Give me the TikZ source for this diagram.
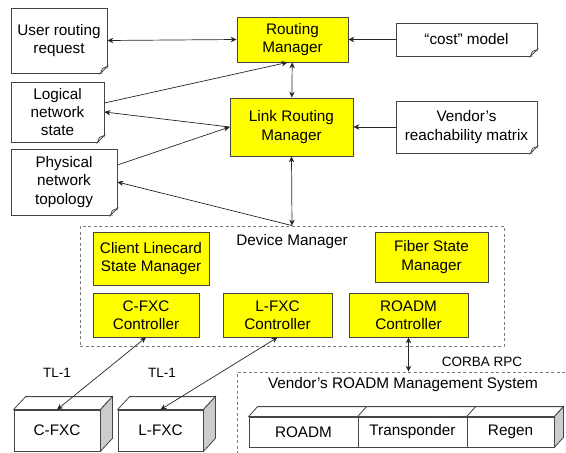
\documentclass[tikz,border=0pt]{standalone}
\usepackage{fontspec}
\setmainfont{Liberation Sans}
\usetikzlibrary{arrows.meta}
\definecolor{edge}{HTML}{454545}
\definecolor{mgr}{HTML}{FFFF00}
\definecolor{dashc}{HTML}{7A7A7A}
\definecolor{side}{HTML}{CCCCCC}
\tikzset{
  txt/.style={font=\fontsize{15.3}{18.3}\selectfont, align=center, inner sep=0pt},
  small/.style={font=\fontsize{13.5}{16}\selectfont, inner sep=0pt},
  mgrbox/.style={txt, draw=edge, fill=mgr, line width=0.8pt},
  docbox/.style={txt, draw=edge, fill=white, line width=0.8pt},
  devbox/.style={txt, draw=edge, fill=white, line width=0.8pt},
  group/.style={draw=dashc, dash pattern=on 3pt off 2.5pt, line width=0.8pt, inner sep=0pt},
  link/.style={line width=0.7pt, draw=black!85},
  >={Stealth[length=6pt,width=5.5pt,inset=2pt]}
}

\begin{document}
\begin{tikzpicture}[x=1pt,y=-1pt]
  \useasboundingbox (0,0) rectangle (566,453);
  \clip (0,0) rectangle (566,453);

  % containers
  \node[group, minimum width=424pt, minimum height=120pt] (devmgr) at (292,286) {};
  \node[group, minimum width=363pt, minimum height=108pt] (vms) at (418.5,426) {};
  \node[txt] (devlabel) at (292,242) {Device Manager};
  \node[txt] (vmslabel) at (403,385) {Vendor’s ROADM Management System};

  % inputs / state
  \node[docbox, minimum width=96pt, minimum height=65pt] (user) at (59,40.5) {User routing\\request};
  \node[docbox, minimum width=93pt, minimum height=60pt] (logical) at (57.5,112) {Logical\\network\\state};
  \node[docbox, minimum width=106pt, minimum height=66pt] (physical) at (64,182) {Physical\\network\\topology};
  \node[docbox, minimum width=141pt, minimum height=33pt] (cost) at (466.5,39.5) {“cost” model};
  \node[docbox, minimum width=141pt, minimum height=52pt] (vendor) at (466.5,127) {Vendor’s\\reachability matrix};

  % folded corners
  \foreach \n in {user,logical,physical,cost,vendor}{
    \fill[white] ([xshift=-7pt]\n.south east) -- ([shift={(1pt,-1pt)}]\n.south east) -- ([yshift=7pt]\n.south east) -- cycle;
    \draw[edge, line width=0.7pt, fill=side!50] ([xshift=-7pt]\n.south east) -- ([yshift=7pt]\n.south east) -- ([shift={(-5pt,5pt)}]\n.south east) -- cycle;
  }

  % managers
  \node[mgrbox, minimum width=111pt, minimum height=45pt] (rm) at (292.5,39.5) {Routing\\Manager};
  \node[mgrbox, minimum width=123pt, minimum height=58pt] (lrm) at (291.5,127) {Link Routing\\Manager};
  \node[mgrbox, minimum width=116pt, minimum height=53pt] (clsm) at (151,258.5) {Client Linecard\\State Manager};
  \node[mgrbox, minimum width=113pt, minimum height=50pt] (fsm) at (431.5,257) {Fiber State\\Manager};
  \node[mgrbox, minimum width=106pt, minimum height=44pt] (cfxcc) at (146,315) {C-FXC\\Controller};
  \node[mgrbox, minimum width=109pt, minimum height=44pt] (lfxcc) at (277.5,315) {L-FXC\\Controller};
  \node[mgrbox, minimum width=119pt, minimum height=44pt] (roadmc) at (408.5,315) {ROADM\\Controller};

  % devices
  \node[devbox, minimum width=86pt, minimum height=41pt] (cfxc) at (57,430.5) {C-FXC};
  \node[devbox, minimum width=85pt, minimum height=41pt] (lfxc) at (160.5,430.5) {L-FXC};
  \node[devbox, minimum width=109pt, minimum height=30pt] (roadm) at (303.5,432) {ROADM};
  \node[devbox, minimum width=109pt, minimum height=30pt] (transp) at (412.5,432) {Transponder};
  \node[devbox, minimum width=87pt, minimum height=30pt] (regen) at (510.5,432) {Regen};

  \foreach \n in {cfxc,lfxc}{
    \draw[edge, line width=0.8pt, fill=white] (\n.north west) -- ++(12pt,13pt) -- ([shift={(12pt,13pt)}]\n.north east) -- (\n.north east) -- cycle;
    \draw[edge, line width=0.8pt, fill=side] (\n.north east) -- ++(12pt,13pt) -- ([shift={(12pt,13pt)}]\n.south east) -- (\n.south east) -- cycle;
  }
  \foreach \n in {roadm,transp,regen}
    \draw[edge, line width=0.8pt, fill=white] (\n.north west) -- ++(9pt,10pt) -- ([shift={(9pt,10pt)}]\n.north east) -- (\n.north east) -- cycle;
  \draw[edge, line width=0.8pt, fill=side] (regen.north east) -- ++(9pt,10pt) -- ([shift={(9pt,10pt)}]regen.south east) -- (regen.south east) -- cycle;

  % connectors
  \draw[link,<->] (user.east) -- (rm.west);
  \draw[link,->] (cost) -- (rm);
  \draw[link,->] (vendor) -- (lrm);
  \draw[link,<->] (rm) -- (lrm);
  \draw[link,->] ([yshift=9pt]logical.east) -- ([xshift=-5pt]rm.south);
  \draw[link,->] (lrm.west) -- (logical.east);
  \draw[link,->] ([yshift=17pt]physical.east) -- (lrm.west);
  \draw[link,<->] (lrm.south) -- (devmgr.north);
  \draw[link,->] (devmgr.north) -- (physical.east);
  \draw[link,<->] (cfxcc.south) -- (cfxc.north);
  \draw[link,<->] (lfxcc.south) -- (lfxc.north);
  \draw[link,<->] (roadmc.south) -- (roadmc.south |- vms.north);

  \node[small] (tla) at (57,373) {TL-1};
  \node[small] (tlb) at (162,373) {TL-1};
  \node[small] (corba) at (482,362) {CORBA RPC};
\end{tikzpicture}
\end{document}
